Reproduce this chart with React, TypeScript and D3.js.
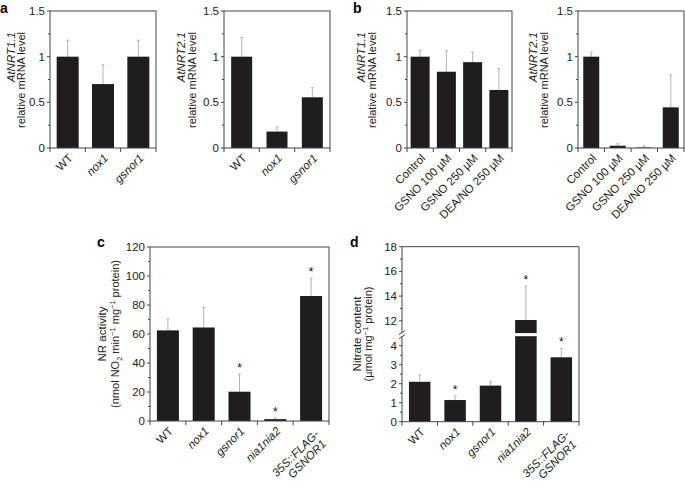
import React from "react";
import * as d3 from "d3";

const FONT = "'Liberation Sans', Arial, Helvetica, sans-serif";
const BAR = "#1f1d1e";
const AXIS = "#444";
const ERR = "#b3b3b3";

// ---------- data ----------
const genotypesAB = ["WT", "nox1", "gsnor1"];
const treatments = ["Control", "GSNO 100 µM", "GSNO 250 µM", "DEA/NO 250 µM"];
const genotypesCD = ["WT", "nox1", "gsnor1", "nia1nia2", "35S::FLAG-|GSNOR1"];
const plainLabels = ["WT", "Control", "GSNO 100 µM", "GSNO 250 µM", "DEA/NO 250 µM"];

const nrt11Mut = [1.0, 0.7, 1.0];
const nrt11MutErr = [0.18, 0.21, 0.18];
const nrt21Mut = [1.0, 0.18, 0.555];
const nrt21MutErr = [0.21, 0.05, 0.105];
const nrt11Trt = [1.0, 0.835, 0.94, 0.635];
const nrt11TrtErr = [0.07, 0.23, 0.11, 0.235];
const nrt21Trt = [1.0, 0.025, 0.005, 0.445];
const nrt21TrtErr = [0.05, 0.02, 0.02, 0.355];

const nrActivity = [62.5, 64.5, 20.2, 1.3, 86.2];
const nrActivityErr = [7.8, 13.9, 12.2, 0.8, 12.2];
const nrSig = [false, false, true, true, true];

const nitrate = [2.1, 1.14, 1.9, 12.06, 3.39];
const nitrateErr = [0.36, 0.21, 0.2, 2.75, 0.47];
const nitrateSig = [false, true, false, true, true];

const topTicks = [0, 0.5, 1, 1.5];
const topTickLabels = ["0", "0.5", "1", "1.5"];
const topMinor = [0.25, 0.75, 1.25];
const cTicks = [0, 20, 40, 60, 80, 100, 120];
const cMinor = [10, 30, 50, 70, 90, 110];
const dLowTicks = [0, 1, 2, 3, 4];
const dLowMinor = [0.5, 1.5, 2.5, 3.5];
const dHighTicks = [12, 14, 16, 18];
const dHighMinor = [13, 15, 17];

// ---------- helpers ----------
const isItalic = (s: string) => !plainLabels.includes(s);
const TXT = "#222";

function XLabel({ cx, y, label, fs }: { cx: number; y: number; label: string; fs: number }) {
  const lines = label.split("|");
  const it = isItalic(label) ? "italic" : "normal";
  if (lines.length === 1) {
    return (
      <text transform={`translate(${cx + 3},${y + 8}) rotate(-45)`} textAnchor="end" dy="0.35em"
        fontSize={fs} fontStyle={it} fontFamily={FONT} fill={TXT}>{label}</text>
    );
  }
  return (
    <g transform={`translate(${cx + 3},${y + 8}) rotate(-45)`}>
      <text textAnchor="end" x={0} y={4} dy="0.35em" fontSize={fs} fontStyle={it} fontFamily={FONT} fill={TXT}>{lines[0]}</text>
      <text textAnchor="end" x={-2} y={16} dy="0.35em" fontSize={fs} fontStyle={it} fontFamily={FONT} fill={TXT}>{lines[1]}</text>
    </g>
  );
}

type PanelProps = {
  cats: string[];
  vals: number[];
  errs: number[];
  sig?: boolean[];
  x0: number;
  x1: number;
  barW: number;
  y: (v: number) => number;
  yTop: number;
  yBot: number;
  fs: number;
};

function Bars({ cats, vals, errs, sig, x0, x1, barW, y, yBot, fs }: PanelProps) {
  const x = d3.scaleBand<string>().domain(cats).range([x0, x1]).padding(0);
  const bw = x.bandwidth();
  return (
    <g>
      {cats.map((c, i) => {
        const cx = (x(c) as number) + bw / 2;
        const top = y(vals[i]);
        const et = y(vals[i] + errs[i]);
        return (
          <g key={c}>
            <line x1={cx} x2={cx} y1={top} y2={et} stroke={ERR} strokeWidth={1} />
            <line x1={cx - 1.5} x2={cx + 1.5} y1={et} y2={et} stroke={ERR} strokeWidth={1} />
            <rect x={cx - barW / 2} y={top} width={barW} height={Math.max(0, yBot - top)} fill={BAR} />
            {sig && sig[i] ? (
              <text x={cx} y={et - 2} textAnchor="middle" fontSize={12} fontFamily={FONT} fill="#111">*</text>
            ) : null}
          </g>
        );
      })}
      {d3.range(cats.length + 1).map((i) => {
        const xx = x0 + i * bw;
        return <line key={i} x1={xx} x2={xx} y1={yBot} y2={yBot + 4} stroke={AXIS} strokeWidth={1} />;
      })}
      {cats.map((c) => (
        <XLabel key={c} cx={(x(c) as number) + bw / 2} y={yBot} label={c} fs={fs} />
      ))}
    </g>
  );
}

function YTicks({ ax, y, ticks, labels, minor }: { ax: number; y: (v: number) => number; ticks: number[]; labels: string[]; minor: number[] }) {
  return (
    <g>
      {ticks.map((t, i) => (
        <g key={"t" + t}>
          <line x1={ax - 3} x2={ax} y1={y(t)} y2={y(t)} stroke={AXIS} />
          <text x={ax - 5} y={y(t)} dy="0.35em" textAnchor="end" fontSize={11.5} fontFamily={FONT} fill={TXT}>{labels[i]}</text>
        </g>
      ))}
      {minor.map((t) => (
        <line key={"m" + t} x1={ax - 2} x2={ax} y1={y(t)} y2={y(t)} stroke={AXIS} />
      ))}
    </g>
  );
}

export default function App() {
  const topY = d3.scaleLinear().domain([0, 1.5]).range([148, 11]);
  const cY = d3.scaleLinear().domain([0, 120]).range([421, 247]);
  const dLow = d3.scaleLinear().domain([0, 4.5]).range([421.7, 336.2]);
  const dHigh = d3.scaleLinear().domain([11, 18]).range([333.1, 246.7]);
  const dY = (v: number) => (v <= 4.5 ? dLow(v) : dHigh(v));

  const topPanels = [
    { cats: genotypesAB, vals: nrt11Mut, errs: nrt11MutErr, x0: 50, x1: 156, barW: 22, gene: "AtNRT1.1", lx: [10.5, 21.5] },
    { cats: genotypesAB, vals: nrt21Mut, errs: nrt21MutErr, x0: 224, x1: 330, barW: 21, gene: "AtNRT2.1", lx: [181, 192] },
    { cats: treatments, vals: nrt11Trt, errs: nrt11TrtErr, x0: 407, x1: 512, barW: 19, gene: "AtNRT1.1", lx: [361, 372] },
    { cats: treatments, vals: nrt21Trt, errs: nrt21TrtErr, x0: 578, x1: 684, barW: 16, gene: "AtNRT2.1", lx: [533, 544] },
  ];

  const dx = d3.scaleBand<string>().domain(genotypesCD).range([402, 579]).padding(0);

  return (
    <svg width={685} height={487} style={{ position: "absolute", left: 0, top: 0, background: "#fff" }}>
      {/* panel letters */}
      <text x={0} y={13} fontSize={14} fontWeight="bold" fontFamily={FONT}>a</text>
      <text x={353} y={13} fontSize={14} fontWeight="bold" fontFamily={FONT}>b</text>
      <text x={97} y={247} fontSize={14} fontWeight="bold" fontFamily={FONT}>c</text>
      <text x={350} y={247} fontSize={14} fontWeight="bold" fontFamily={FONT}>d</text>

      {topPanels.map((p, k) => (
        <g key={k}>
          <Bars cats={p.cats} vals={p.vals} errs={p.errs} x0={p.x0} x1={p.x1} barW={p.barW} y={topY} yTop={11} yBot={148} fs={11.5} />
          <rect x={p.x0} y={11} width={p.x1 - p.x0} height={137} fill="none" stroke={AXIS} strokeWidth={1} />
          <YTicks ax={p.x0} y={topY} ticks={topTicks} labels={topTickLabels} minor={topMinor} />
          <text transform={`translate(${p.lx[0]},32) rotate(-90)`} textAnchor="end" dy="0.35em" fontSize={11.5} fontStyle="italic" fontFamily={FONT} fill={TXT}>{p.gene}</text>
          <text transform={`translate(${p.lx[1]},32) rotate(-90)`} textAnchor="end" dy="0.35em" fontSize={11} fontFamily={FONT} fill={TXT}>relative mRNA level</text>
        </g>
      ))}

      {/* panel c */}
      <Bars cats={genotypesCD} vals={nrActivity} errs={nrActivityErr} sig={nrSig} x0={150} x1={329} barW={22} y={cY} yTop={247} yBot={421} fs={11.5} />
      <rect x={150} y={247} width={179} height={174} fill="none" stroke={AXIS} strokeWidth={1} />
      <YTicks ax={150} y={cY} ticks={cTicks} labels={cTicks.map(String)} minor={cMinor} />
      <text transform="translate(101.5,334) rotate(-90)" textAnchor="middle" dy="0.35em" fontSize={11.5} fontFamily={FONT} fill={TXT}>NR activity</text>
      <text transform="translate(115,334) rotate(-90)" textAnchor="middle" dy="0.35em" fontSize={11} fontFamily={FONT} fill={TXT}>
        <tspan>(nmol NO</tspan>
        <tspan fontSize={7.5} dy={3}>2</tspan>
        <tspan dy={-3}> min</tspan>
        <tspan fontSize={7.5} dy={-4}>−1</tspan>
        <tspan dy={4}> mg</tspan>
        <tspan fontSize={7.5} dy={-4}>−1</tspan>
        <tspan dy={4}> protein)</tspan>
      </text>

      {/* panel d */}
      <Bars cats={genotypesCD} vals={nitrate} errs={nitrateErr} sig={nitrateSig} x0={402} x1={579} barW={21.5} y={dY} yTop={247} yBot={421.7} fs={11.5} />
      <rect x={(dx("nia1nia2") as number) + dx.bandwidth() / 2 - 12} y={dHigh(11)} width={24} height={dLow(4.5) - dHigh(11)} fill="#fff" />
      <line x1={402} x2={579} y1={246.7} y2={246.7} stroke={AXIS} />
      <line x1={579} x2={579} y1={246.7} y2={421.7} stroke={AXIS} />
      <line x1={402} x2={579} y1={421.7} y2={421.7} stroke={AXIS} />
      <line x1={402} x2={402} y1={246.7} y2={dHigh(11)} stroke={AXIS} />
      <line x1={402} x2={402} y1={dLow(4.5)} y2={421.7} stroke={AXIS} />
      <line x1={399} x2={405} y1={dHigh(11) + 1.5} y2={dHigh(11) - 2.5} stroke={AXIS} />
      <line x1={399} x2={405} y1={dLow(4.5) + 2.5} y2={dLow(4.5) - 1.5} stroke={AXIS} />
      <YTicks ax={402} y={dLow} ticks={dLowTicks} labels={dLowTicks.map(String)} minor={dLowMinor} />
      <YTicks ax={402} y={dHigh} ticks={dHighTicks} labels={dHighTicks.map(String)} minor={dHighMinor} />
      <text transform="translate(356.5,334) rotate(-90)" textAnchor="middle" dy="0.35em" fontSize={11.5} fontFamily={FONT} fill={TXT}>Nitrate content</text>
      <text transform="translate(368,334) rotate(-90)" textAnchor="middle" dy="0.35em" fontSize={11} fontFamily={FONT} fill={TXT}>
        <tspan>(µmol mg</tspan>
        <tspan fontSize={7.5} dy={-4}>−1</tspan>
        <tspan dy={4}> protein)</tspan>
      </text>
    </svg>
  );
}
